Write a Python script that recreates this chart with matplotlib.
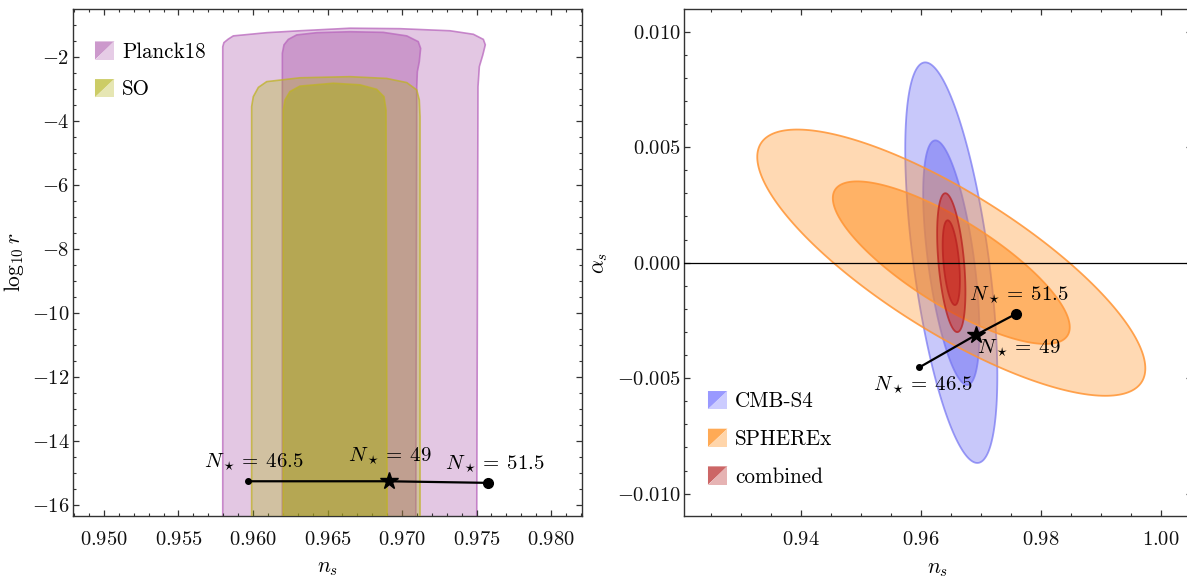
import numpy as np
import matplotlib
matplotlib.use('Agg')
import matplotlib.pyplot as plt
from matplotlib.patches import Polygon, Patch
from matplotlib.legend_handler import HandlerBase
from matplotlib.ticker import MultipleLocator, FormatStrFormatter

plt.rcParams['font.family'] = 'serif'
plt.rcParams['font.serif'] = ['cmr10']
plt.rcParams['mathtext.fontset'] = 'cm'
plt.rcParams['axes.formatter.use_mathtext'] = True

# ---------------- data ----------------
N_star = [46.5, 49, 51.5]
ns_pred = [0.95968, 0.96910, 0.97575]
logr_pred = [-15.27, -15.27, -15.32]
alphas_pred = [-0.00453, -0.00313, -0.00222]

# left panel contour outlines (n_s, log10 r)
planck_outer_ns = [0.95797, 0.95797, 0.95805, 0.95834, 0.95868, 0.96092, 0.96315, 0.96651,
                   0.96987, 0.97322, 0.97479, 0.97546, 0.97559, 0.97542, 0.97519, 0.97510, 0.97501]
planck_outer_lr = [-17.5, -1.69, -1.56, -1.45, -1.35, -1.25, -1.19, -1.11,
                   -1.125, -1.19, -1.30, -1.46, -1.63, -1.95, -2.31, -2.94, -17.5]
planck_inner_ns = [0.96197, 0.96197, 0.96208, 0.96237, 0.96293, 0.96428, 0.96651, 0.96874,
                   0.97032, 0.97109, 0.97125, 0.97116, 0.97103, 0.97099, 0.97092]
planck_inner_lr = [-17.5, -1.89, -1.63, -1.46, -1.32, -1.25, -1.22, -1.24,
                   -1.35, -1.53, -1.74, -2.16, -2.47, -2.94, -17.5]
so_outer_ns = [0.95991, 0.95991, 0.96002, 0.96036, 0.96092, 0.96315, 0.96651, 0.96897,
               0.97032, 0.97099, 0.97116, 0.97121, 0.97121]
so_outer_lr = [-17.5, -3.56, -3.25, -2.96, -2.78, -2.66, -2.625, -2.68,
               -2.81, -3.04, -3.35, -3.875, -17.5]
so_inner_ns = [0.96203, 0.96203, 0.96215, 0.96248, 0.96315, 0.96539, 0.96718, 0.96830,
               0.96879, 0.96893, 0.96901]
so_inner_lr = [-17.5, -3.67, -3.35, -3.09, -2.92, -2.83, -2.88, -3.02,
               -3.25, -3.67, -17.5]

# right panel forecasts: fiducial and (sigma_ns, sigma_alphas, correlation)
fiducial = (0.965, 0.0)
cmbs4 = (0.00309, 0.00349, -0.565)
spherex = (0.01302, 0.00232, -0.794)
combined = (0.00095, 0.00121, -0.42)
dchi2 = [6.17, 2.30]   # 2 sigma, 1 sigma

# ---------------- figure ----------------
fig = plt.figure(figsize=(11.87, 5.78), dpi=100)
axL = fig.add_axes([73/1187, 1-515.5/578, 509/1187, 506.5/578])
axR = fig.add_axes([684/1187, 1-516/578, 508/1187, 507/578])

spine_c = '#333333'
for ax in (axL, axR):
    for s in ax.spines.values():
        s.set_linewidth(1.0)
        s.set_color(spine_c)
    ax.tick_params(which='both', direction='in', top=True, right=True, colors=spine_c,
                   labelcolor='#111111', labelsize=14.8)
    ax.tick_params(which='major', length=4.3, width=0.9)
    ax.tick_params(which='minor', length=2.4, width=0.8)
    ax.tick_params(axis='x', pad=11)
    ax.tick_params(axis='y', pad=2.5)


class SplitSquare(HandlerBase):
    def __init__(self, dark, light):
        super().__init__()
        self.dark = dark
        self.light = light

    def create_artists(self, legend, orig_handle, xdescent, ydescent, width, height, fontsize, trans):
        x0, y0 = -xdescent, -ydescent
        p1 = Polygon([[x0, y0 + height], [x0 + width, y0 + height], [x0, y0]], closed=True,
                     fc=self.dark, ec='none', transform=trans)
        p2 = Polygon([[x0 + width, y0 + height], [x0 + width, y0], [x0, y0]], closed=True,
                     fc=self.light, ec='none', transform=trans)
        return [p1, p2]


# ---------------- left panel ----------------
P = (0.6, 0.2, 0.6)
S = (0.65, 0.7, 0.0)
Pe = (0.72, 0.40, 0.74, 0.75)
Se = (0.75, 0.70, 0.15, 0.75)
axL.fill(planck_outer_ns, planck_outer_lr, fc=P + (0.27,), ec=Pe, lw=1.2, zorder=1)
axL.fill(planck_inner_ns, planck_inner_lr, fc=P + (0.315,), ec=Pe, lw=1.2, zorder=2)
axL.fill(so_outer_ns, so_outer_lr, fc=S + (0.29,), ec=Se, lw=1.2, zorder=3)
axL.fill(so_inner_ns, so_inner_lr, fc=S + (0.42,), ec=Se, lw=1.2, zorder=4)

axL.plot(ns_pred, logr_pred, color='k', lw=1.6, zorder=6)
axL.plot(ns_pred[0], logr_pred[0], 'o', color='k', ms=4, zorder=7)
axL.plot(ns_pred[1], logr_pred[1], '*', color='k', ms=13, zorder=7)
axL.plot(ns_pred[2], logr_pred[2], 'o', color='k', ms=7, zorder=7)
offL = [(6, 19), (1, 25), (7, 18)]
for N, x, y, o in zip(N_star, ns_pred, logr_pred, offL):
    axL.annotate(r'$N_\star=\;%g$' % N, (x, y), xytext=o, textcoords='offset pixels',
                 ha='center', va='center', fontsize=15, zorder=8)

axL.set_xlim(0.94792, 0.98208)
axL.set_ylim(-16.34, -0.51)
axL.xaxis.set_major_locator(MultipleLocator(0.005))
axL.xaxis.set_minor_locator(MultipleLocator(0.001))
axL.yaxis.set_major_locator(MultipleLocator(2))
axL.yaxis.set_minor_locator(MultipleLocator(0.5))
axL.xaxis.set_major_formatter(FormatStrFormatter(r'$%.3f$'))
axL.yaxis.set_major_formatter(FormatStrFormatter(r'$%d$'))
axL.set_xlabel(r'$n_s$', fontsize=15.5, labelpad=7)
axL.set_ylabel(r'$\log_{10} r$', fontsize=15.5, labelpad=4)

hP, hS = Patch(), Patch()
axL.legend([hP, hS], ['Planck18', 'SO'],
           handler_map={hP: SplitSquare('#cc99cc', '#e6cce6'), hS: SplitSquare('#cccc66', '#e6e6b3')},
           loc='upper left', bbox_to_anchor=(0.0432, 0.936), borderpad=0, borderaxespad=0,
           frameon=False, fontsize=15.2, handlelength=0.92, handleheight=0.95,
           handletextpad=0.36, labelspacing=0.82)

# ---------------- right panel ----------------
def ellipse(center, sig, d2, n=240):
    sx, sy, rho = sig
    cov = np.array([[sx**2, rho*sx*sy], [rho*sx*sy, sy**2]])
    L = np.linalg.cholesky(cov)
    t = np.linspace(0, 2*np.pi, n)
    pts = np.sqrt(d2) * (L @ np.vstack([np.cos(t), np.sin(t)]))
    return center[0] + pts[0], center[1] + pts[1]

B = (0.35, 0.35, 0.95)
O = (1.0, 0.55, 0.1)
R = (0.78, 0.12, 0.12)
styles = [
    (cmbs4, B, (0.33, 0.42), (0.45, 0.45, 0.95, 0.7)),
    (spherex, O, (0.33, 0.50), (1.0, 0.58, 0.2, 0.85)),
    (combined, R, (0.45, 0.55), (0.72, 0.12, 0.12, 0.75)),
]
z = 1
for sig, col, alphas, ecol in styles:
    for d2, a in zip(dchi2, alphas):
        x, y = ellipse(fiducial, sig, d2)
        axR.fill(x, y, fc=col + (a,), ec=ecol, lw=1.3, zorder=z)
        z += 1

axR.axhline(0, color='k', lw=0.9, zorder=10)
axR.plot(ns_pred, alphas_pred, color='k', lw=1.6, zorder=11)
axR.plot(ns_pred[0], alphas_pred[0], 'o', color='k', ms=4, zorder=12)
axR.plot(ns_pred[1], alphas_pred[1], '*', color='k', ms=13, zorder=12)
axR.plot(ns_pred[2], alphas_pred[2], 'o', color='k', ms=7, zorder=12)
offR = [(4, -18), (43, -13), (3, 19)]
for N, x, y, o in zip(N_star, ns_pred, alphas_pred, offR):
    axR.annotate(r'$N_\star=\;%g$' % N, (x, y), xytext=o, textcoords='offset pixels',
                 ha='center', va='center', fontsize=15, zorder=13)

axR.set_xlim(0.92045, 1.00512)
axR.set_ylim(-0.010965, 0.01098)
axR.xaxis.set_major_locator(MultipleLocator(0.02))
axR.xaxis.set_minor_locator(MultipleLocator(0.005))
axR.yaxis.set_major_locator(MultipleLocator(0.005))
axR.yaxis.set_minor_locator(MultipleLocator(0.001))
axR.xaxis.set_major_formatter(FormatStrFormatter(r'$%.2f$'))
axR.yaxis.set_major_formatter(FormatStrFormatter(r'$%.3f$'))
axR.set_xlabel(r'$n_s$', fontsize=15.5, labelpad=7)
axR.set_ylabel(r'$\alpha_s$', fontsize=15.5, labelpad=5)

hB, hO, hR = Patch(), Patch(), Patch()
axR.legend([hB, hO, hR], ['CMB-S4', 'SPHEREx', 'combined'],
           handler_map={hB: SplitSquare('#9999ff', '#ccccff'),
                        hO: SplitSquare('#ffaa55', '#ffd5aa'),
                        hR: SplitSquare('#cc6666', '#e6b3b3')},
           loc='upper left', bbox_to_anchor=(0.0472, 0.2465), borderpad=0, borderaxespad=0,
           frameon=False, fontsize=15.2, handlelength=0.92, handleheight=0.95,
           handletextpad=0.36, labelspacing=0.82)

fig.savefig('out.png', dpi=100)
